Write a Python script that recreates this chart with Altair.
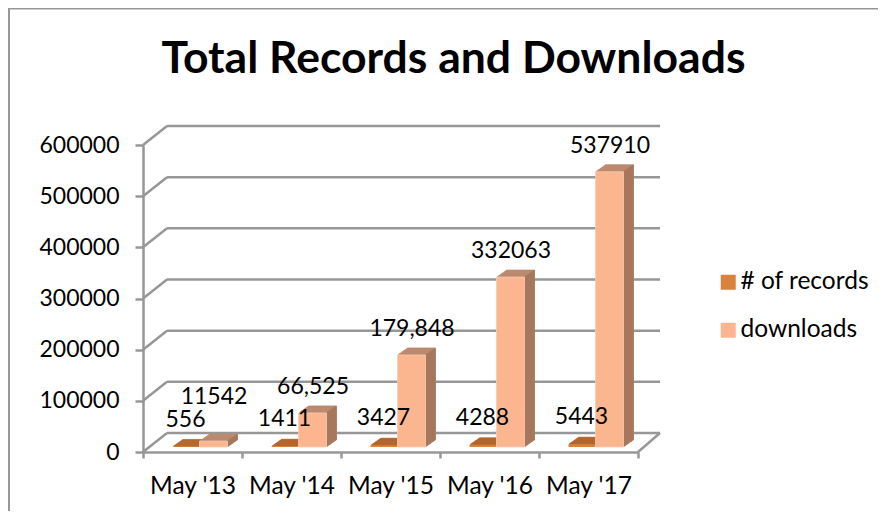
import altair as alt
import pandas as pd

months = ["May '13", "May '14", "May '15", "May '16", "May '17"]
records = [556, 1411, 3427, 4288, 5443]
downloads = [11542, 66525, 179848, 332063, 537910]
record_labels = ["556", "1411", "3427", "4288", "5443"]
download_labels = ["11542", "66,525", "179,848", "332063", "537910"]
ticks = [0, 100000, 200000, 300000, 400000, 500000, 600000]
series_names = ["# of records", "downloads"]

FONT = "Lato"
GREY = "#979797"
W, H = 495, 307
DX, DY = 24, 19
BAR_W = 28
DEPTH = 10
LIFT = 5

rows = []
for m, a, b, la, lb in zip(months, records, downloads, record_labels, download_labels):
    rows.append({"month": m, "series": series_names[0], "value": a, "label": la})
    rows.append({"month": m, "series": series_names[1], "value": b, "label": lb})
df = pd.DataFrame(rows)
grid_df = pd.DataFrame({"tick": ticks})

y_axis = alt.Axis(values=ticks, labelFont=FONT, labelFontSize=23, labelColor="#000",
                  labelPadding=16, tickSize=8, tickColor=GREY, tickWidth=2.5,
                  domainColor=GREY, domainWidth=2.5, grid=False, format="d", title=None)
x_enc = alt.X("month:N", sort=months, title=None,
              scale=alt.Scale(paddingInner=0, paddingOuter=0),
              axis=alt.Axis(labelAngle=0, labelFont=FONT, labelFontSize=24.5, labelColor="#000",
                            labelPadding=16, tickBand="extent", tickSize=6, tickColor=GREY,
                            tickWidth=2.5, domainColor=GREY, domainWidth=2.5, grid=False))
y_enc = alt.Y("value:Q", title=None,
              scale=alt.Scale(domain=[0, 600000], nice=False), axis=y_axis)
y_tick = alt.Y("tick:Q", title=None, scale=alt.Scale(domain=[0, 600000], nice=False), axis=y_axis)

layers = []

# Chart frame (top and left edges)
layers.append(alt.Chart(grid_df).transform_filter("datum.tick == 0").mark_rule(color=GREY, strokeWidth=2).encode(
    x=alt.value(-134), x2=alt.value(735), y=alt.value(-136.5)))
layers.append(alt.Chart(grid_df).transform_filter("datum.tick == 0").mark_rule(color=GREY, strokeWidth=2).encode(
    x=alt.value(-134), y=alt.value(-137), y2=alt.value(366)))

# Back wall lines and the diagonals that join them to the front axis
layers.append(alt.Chart(grid_df).mark_rule(color=GREY, strokeWidth=2.5, yOffset=-DY, y2Offset=-DY).encode(
    y=y_tick, x=alt.value(DX), x2=alt.value(W + DX - 2)))
layers.append(alt.Chart(grid_df).mark_rule(color=GREY, strokeWidth=2.5, y2Offset=-DY).encode(
    y=y_tick, y2=alt.Y2("tick:Q"), x=alt.value(0), x2=alt.value(DX)))
layers.append(alt.Chart(grid_df).transform_filter("datum.tick == 0").mark_rule(
    color=GREY, strokeWidth=2.5, y2Offset=-DY).encode(
    y=y_tick, y2=alt.Y2("tick:Q"), x=alt.value(W), x2=alt.value(W + DX - 2)))


def bars(name, off, top_color, side_color):
    data = alt.Chart(df).transform_filter(alt.datum.series == name)
    out = []
    for i in range(DEPTH, 0, -1):
        dy = LIFT + i * 0.7
        out.append(data.mark_bar(width=BAR_W, color=top_color, stroke=top_color, strokeWidth=0.8,
                                 xOffset=off + i, x2Offset=off + i,
                                 yOffset=-dy, y2Offset=-dy).encode(x=x_enc, y=y_enc))
    for i in range(DEPTH, 0, -1):
        dy = LIFT + i * 0.7
        xo = off + BAR_W / 2 + i - 0.5
        out.append(data.mark_bar(width=1.2, color=side_color, xOffset=xo, x2Offset=xo,
                                 yOffset=-dy, y2Offset=-dy).encode(x=x_enc, y=y_enc))
    return out


layers += bars(series_names[0], -6, "#B5662C", "#A0592A")
layers += bars(series_names[1], 21, "#BC8A6F", "#A3755B")

# Front faces (these also drive the legend)
color_scale = alt.Scale(domain=series_names, range=["#DA823C", "#FBB68F"])
legend = alt.Legend(title=None, orient="none", legendX=573, legendY=125, symbolType="square",
                    symbolSize=225, symbolStrokeWidth=0, symbolOpacity=1, labelFont=FONT,
                    labelFontSize=24.5, labelColor="#000", labelOffset=0, rowPadding=23,
                    labelLimit=200)
for name, off in zip(series_names, [-6, 21]):
    layers.append(alt.Chart(df).transform_filter(alt.datum.series == name).mark_bar(
        width=BAR_W, xOffset=off, x2Offset=off, yOffset=-LIFT, y2Offset=-LIFT,
        stroke="#F3CDB6", strokeWidth=0.8 if name == series_names[1] else 0).encode(
        x=x_enc, y=y_enc, color=alt.Color("series:N", scale=color_scale, legend=legend, sort=series_names)))

# Value labels
def labels(expr, x_off, y_off):
    return alt.Chart(df).transform_filter(expr).mark_text(
        font=FONT, fontSize=23, color="#000", xOffset=x_off, yOffset=y_off, baseline="middle"
    ).encode(x=x_enc, y=y_enc, text="label:N")

layers.append(labels(alt.datum.series == series_names[0], -7, -32))
layers.append(labels((alt.datum.series == series_names[1]) & (alt.datum.value > 20000), 21.5, -31))
layers.append(labels((alt.datum.series == series_names[1]) & (alt.datum.value < 20000), 21.5, -49))

chart = alt.layer(*layers).properties(
    width=W, height=H,
    title=alt.TitleParams("Total Records and Downloads", font=FONT, fontSize=44.5, fontWeight="bold",
                          color="#000", anchor="middle", frame="group", dx=63, dy=75, offset=0),
    autosize=alt.AutoSizeParams(type="none"),
    padding={"left": 135, "top": 137, "right": 240, "bottom": 59},
).configure_view(stroke=None)

chart.save("out.html", embed_options={"renderer": "svg", "actions": False})
